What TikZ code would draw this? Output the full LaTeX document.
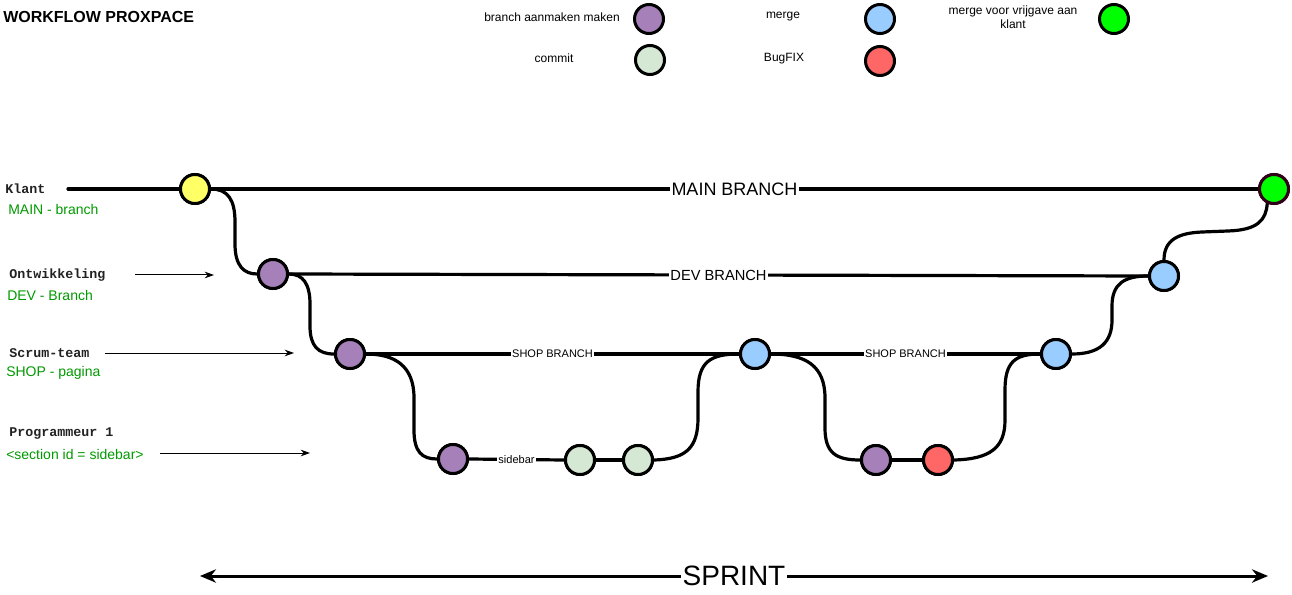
\documentclass[tikz,border=0pt]{standalone}
\usepackage{fontspec}
\setmainfont{Liberation Sans}
\newfontfamily\monofont{Liberation Mono}
\usetikzlibrary{arrows.meta}
\definecolor{cyellow}{HTML}{FFFF66}
\definecolor{cpurple}{HTML}{A680B8}
\definecolor{ccommit}{HTML}{D5E8D4}
\definecolor{cblue}{HTML}{99CCFF}
\definecolor{cred}{HTML}{FF6666}
\definecolor{cgreen}{HTML}{00FF00}
\definecolor{cdark}{HTML}{33001A}
\definecolor{lblgreen}{HTML}{009900}
\definecolor{monogray}{HTML}{222222}
\begin{document}
\begin{tikzpicture}[x=0.75pt,y=-0.75pt,
  dot/.style={circle,draw=black,line width=2.25pt,minimum size=21.75pt,inner sep=0pt},
  edge/.style={line width=2.4pt,line cap=round},
  onlbl/.style={fill=white,inner sep=0.8pt,text=black},
  legtext/.style={font=\fontsize{9}{10.5}\selectfont,align=center,inner sep=0pt},
  roletext/.style={anchor=west,inner sep=0pt,text=monogray,font=\monofont\bfseries\fontsize{10}{12}\selectfont},
  greentext/.style={anchor=west,inner sep=0pt,text=lblgreen,font=\fontsize{10.5}{12}\selectfont},
  pointer/.style={line width=0.75pt,-{Stealth[length=7pt,width=5pt]}}]
\useasboundingbox (0,0) rectangle (1292,595);

% title
\node[anchor=west,inner sep=0pt,font=\bfseries\fontsize{12}{14}\selectfont] (title) at (3,17) {WORKFLOW PROXPACE};

% legend
\node[legtext] (lg1t) at (552,17) {branch aanmaken maken};
\node[dot,fill=cpurple] (lg1) at (649,19) {};
\node[legtext] (lg2t) at (554,58) {commit};
\node[dot,fill=ccommit] (lg2) at (650,60) {};
\node[legtext] (lg3t) at (783,17) {merge};
\node[dot,fill=cblue] (lg3) at (880,19) {};
\node[legtext] (lg4t) at (784,59) {BugFIX};
\node[dot,fill=cred] (lg4) at (880,61) {};
\node[legtext] (lg5t) at (1013,17) {merge voor vrijgave aan\\klant};
\node[dot,fill=cgreen] (lg5) at (1114,19) {};

% role labels
\node[roletext] (klant) at (5,189) {Klant};
\node[greentext] (mainb) at (8,209) {MAIN - branch};
\node[roletext] (ontw) at (9,275) {Ontwikkeling};
\node[greentext] (devb) at (7,295) {DEV - Branch};
\node[roletext] (scrum) at (9,353) {Scrum-team};
\node[greentext] (shopb) at (6,373) {SHOP - pagina};
\node[roletext] (prog) at (9,434) {Programmeur 1};
\node[greentext] (secb) at (6,454) {<section id = sidebar>};

% pointers
\coordinate (a1s) at (135,275); \coordinate (a1e) at (214,275);
\coordinate (a2s) at (105,353); \coordinate (a2e) at (294,353);
\coordinate (a3s) at (160,453); \coordinate (a3e) at (310,453);
\draw[pointer] (a1s) -- (a1e);
\draw[pointer] (a2s) -- (a2e);
\draw[pointer] (a3s) -- (a3e);

% commit nodes
\node[dot,fill=cyellow] (y) at (195,189) {};
\node[dot,fill=cpurple] (p1) at (273,274) {};
\node[dot,fill=cpurple] (p2) at (350,354) {};
\node[dot,fill=cpurple] (p3) at (453,459) {};
\node[dot,fill=ccommit] (c1) at (580,460) {};
\node[dot,fill=ccommit] (c2) at (638,460) {};
\node[dot,fill=cblue] (b1) at (755,354) {};
\node[dot,fill=cpurple] (p4) at (876,460) {};
\node[dot,fill=cred] (r) at (938,460) {};
\node[dot,fill=cblue] (b2) at (1056,354) {};
\node[dot,fill=cblue] (b3) at (1164,276) {};
\node[dot,draw=cdark,fill=cgreen] (g) at (1274,189) {};

% main line
\coordinate (mstart) at (68,189);
\draw[edge] (mstart) -- (y.west);
\draw[edge] (y.east) -- node[onlbl,font=\fontsize{13.5}{15}\selectfont] {MAIN BRANCH} (g.west);
% dev line
\draw[edge] (p1.east) -- node[onlbl,font=\fontsize{11}{13}\selectfont] {DEV BRANCH} (b3.west);
% shop lines
\draw[edge] (p2.east) -- node[onlbl,font=\fontsize{8.25}{10}\selectfont] {SHOP BRANCH} (b1.west);
\draw[edge] (b1.east) -- node[onlbl,font=\fontsize{8.25}{10}\selectfont] {SHOP BRANCH} (b2.west);
% sidebar
\draw[edge] (p3.east) -- node[onlbl,font=\fontsize{8.25}{10}\selectfont] {sidebar} (c1.west);
\draw[edge] (c1.east) -- (c2.west);
\draw[edge] (p4.east) -- (r.west);

% curves
\draw[edge] (y.east) .. controls (228,189) and (235,200) .. (235,222) -- (235,244) .. controls (235,266) and (244,274) .. (p1.west);
\draw[edge] (p1.east) .. controls (303,274) and (310,284) .. (310,304) -- (310,326) .. controls (310,346) and (318,354) .. (p2.west);
\draw[edge] (p2.east) .. controls (395,354) and (414,366) .. (414,398) -- (414,430) .. controls (414,452) and (422,459) .. (p3.west);
\draw[edge] (c2.east) .. controls (686,459) and (698,448) .. (698,418) -- (698,392) .. controls (698,362) and (710,354) .. (b1.west);
\draw[edge] (b1.east) .. controls (806,354) and (825,366) .. (825,398) -- (825,428) .. controls (825,453) and (836,460) .. (p4.west);
\draw[edge] (r.east) .. controls (990,459) and (1005,448) .. (1005,420) -- (1005,390) .. controls (1005,362) and (1015,354) .. (b2.west);
\draw[edge] (b2.east) .. controls (1100,354) and (1112,342) .. (1112,320) -- (1112,306) .. controls (1112,284) and (1124,276) .. (b3.west);
\draw[edge] (b3.north) .. controls (1164,240) and (1178,233) .. (1202,232) -- (1228,231) .. controls (1258,230) and (1266,220) .. (g.245);

% redraw nodes over edges
\foreach \n/\c in {y/cyellow,p1/cpurple,p2/cpurple,p3/cpurple,c1/ccommit,c2/ccommit,b1/cblue,p4/cpurple,r/cred,b2/cblue,b3/cblue}
  \node[dot,fill=\c] at (\n) {};
\node[dot,draw=cdark,fill=cgreen] at (g) {};

% sprint
\coordinate (sl) at (200,576);
\coordinate (sr) at (1268,576);
\draw[line width=2.25pt,{Stealth[length=12pt,width=10pt]}-{Stealth[length=12pt,width=10pt]}] (sl) -- node[onlbl,inner sep=1pt,font=\fontsize{21}{24}\selectfont] {SPRINT} (sr);
\end{tikzpicture}
\end{document}
